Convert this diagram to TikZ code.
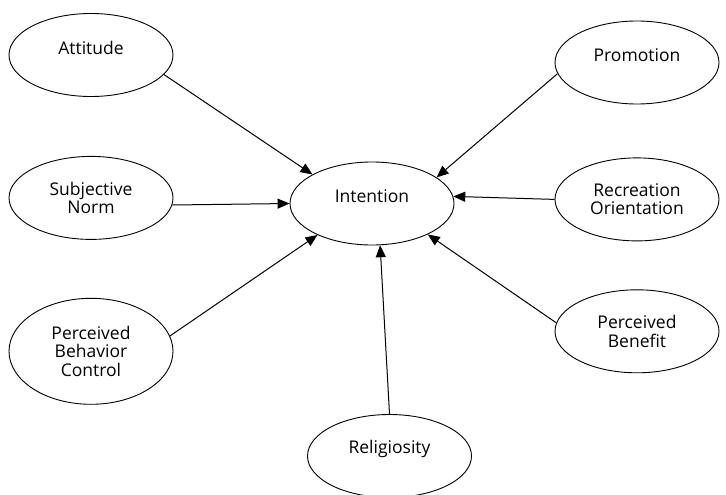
\documentclass[tikz,border=0pt]{standalone}
\usepackage{fontspec}
\setmainfont{Open Sans}
\usetikzlibrary{shapes.geometric, arrows.meta, positioning}

\newcommand\lift[1]{\raisebox{7pt}[\height][\depth]{#1}}

\begin{document}
\begin{tikzpicture}[x=1pt, y=-1pt, >={Triangle[length=12pt,width=10pt]},
    var/.style={draw, ellipse, line width=0.9pt, minimum width=164pt,
        minimum height=83pt, inner sep=0pt, align=center,
        font=\fontsize{17.5}{18.5}\selectfont},
    link/.style={->, line width=1pt}]
    \useasboundingbox (0,0) rectangle (726,495);
    \node[var] (int) at (372,203.5) {\lift{Intention}};
    \node[var] (att) at (91,55) {\lift{Attitude}};
    \node[var, below=59pt of att] (sn) {Subjective\\Norm};
    \node[var, below=58pt of sn, minimum height=106pt] (pbc) {Perceived\\Behavior\\Control};
    \node[var] (pro) at (637,62.5) {\lift{Promotion}};
    \node[var, below=53pt of pro] (rec) {Recreation\\Orientation};
    \node[var, below=48pt of rec] (pb) {Perceived\\Benefit};
    \node[var] (rel) at (389.5,456) {\lift{Religiosity}};
    \draw[link] (att.-15) -- (int.154);
    \draw[link] (sn.-5) -- (int.west);
    \draw[link] (pbc.11) -- (int.210);
    \draw[link] (pro.188) -- (int.22);
    \draw[link] (rec.west) -- (int.5);
    \draw[link] (pb.174) -- (int.-29);
    \draw[link] (rel.north) -- (int.-79);
\end{tikzpicture}
\end{document}
